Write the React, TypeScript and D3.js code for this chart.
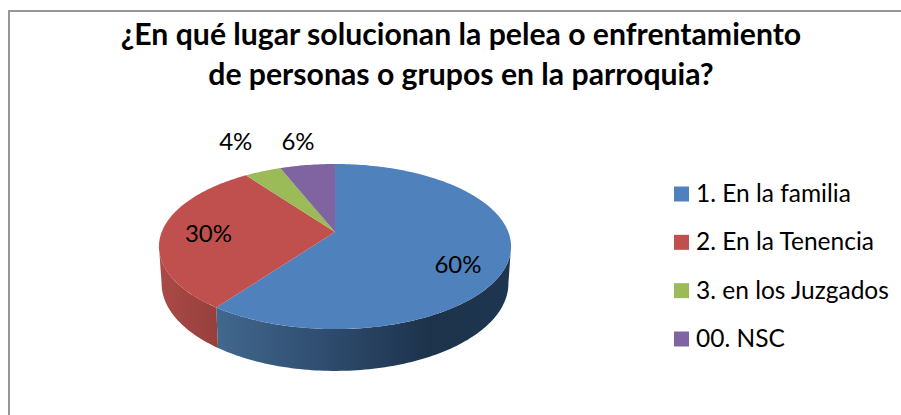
import React from "react";
import * as d3 from "d3";

const categories = ["1. En la familia", "2. En la Tenencia", "3. en los Juzgados", "00. NSC"];
const shares = [60, 30, 4, 6];
const labels = ["60%", "30%", "4%", "6%"];
const titleLines = ["¿En qué lugar solucionan la pelea o enfrentamiento", "de personas o grupos en la parroquia?"];
const colors = ["#4f81bd", "#c0504d", "#9bbb59", "#8064a2"];

const W = 901, H = 415;
const cx = 335, cy = 232;
const k = -0.176, ay = 80, bx = 173.3;
const depth = 36, lowX = 0.985, lowY = 1.06;
const FONT = "Lato, Carlito, sans-serif";

// disc projection: angle clockwise from north, radius fraction -> pixel
function project(theta: number, r = 1, lower = false): [number, number] {
  const u = r * Math.sin(theta), v = -r * Math.cos(theta);
  const d = 1 + k * v;
  const X = (bx * u) / d, Y = (ay * v) / d;
  return lower ? [cx + X * lowX, cy + Y * lowY + depth] : [cx + X, cy + Y];
}

function arcPts(a0: number, a1: number, lower = false) {
  const n = Math.max(2, Math.ceil(Math.abs(a1 - a0) / 0.02));
  return d3.range(n + 1).map((i) => project(a0 + ((a1 - a0) * i) / n, 1, lower));
}

const line = d3.line<[number, number]>().x((d) => d[0]).y((d) => d[1]);
const arcs = d3.pie<number>().sort(null)(shares);

const sideStart = (100 * Math.PI) / 180, sideEnd = (260 * Math.PI) / 180;

const labelPlacement = [
  { r: 0.7, dx: 3, dy: 14 },
  { r: 0.73, dx: 0, dy: 0 },
  { r: 1.28, dx: -10, dy: -17 },
  { r: 1.28, dx: -3, dy: -9 },
];

const legendY = d3.scalePoint<string>().domain(categories).range([194, 339]);

export default function App() {
  const sides = arcs
    .map((a, i) => ({ i, a0: Math.max(a.startAngle, sideStart), a1: Math.min(a.endAngle, sideEnd) }))
    .filter((s) => s.a1 > s.a0);
  return (
    <svg width={W} height={H} style={{ position: "absolute", left: 0, top: 0, background: "#fff" }}>
      <defs>
        <linearGradient id="side0" gradientUnits="userSpaceOnUse" x1={216} x2={511} y1={0} y2={0}>
          <stop offset="0" stopColor="#42688f" />
          <stop offset="0.4" stopColor="#2d4a6c" />
          <stop offset="0.72" stopColor="#1d334c" />
          <stop offset="1" stopColor="#1f3650" />
        </linearGradient>
        <linearGradient id="side1" gradientUnits="userSpaceOnUse" x1={159} x2={220} y1={0} y2={0}>
          <stop offset="0" stopColor="#ab4a47" />
          <stop offset="1" stopColor="#963f3c" />
        </linearGradient>
      </defs>
      <path d={`M9 415V11H901`} fill="none" stroke="#979797" strokeWidth={2} />
      {titleLines.map((t, i) => (
        <text key={t} x={461} y={44.5 + i * 40} textAnchor="middle" fontFamily={FONT} fontWeight={700} fontSize={30.2} fill="#000">{t}</text>
      ))}
      {sides.map((s) => (
        <path
          key={s.i}
          d={(line([...arcPts(s.a0, s.a1), ...arcPts(s.a1, s.a0, true)]) ?? "") + "Z"}
          fill={`url(#side${s.i})`}
        />
      ))}
      {arcs.map((a, i) => (
        <path
          key={i}
          d={(line([[cx, cy], ...arcPts(a.startAngle, a.endAngle)]) ?? "") + "Z"}
          fill={colors[i]}
        />
      ))}
      {arcs.map((a, i) => {
        const [x, y] = project((a.startAngle + a.endAngle) / 2, labelPlacement[i].r);
        return (
          <text key={i} x={x + labelPlacement[i].dx} y={y + labelPlacement[i].dy} textAnchor="middle" dominantBaseline="central" fontFamily={FONT} fontSize={24} fill="#000">{labels[i]}</text>
        );
      })}
      {categories.map((c, i) => {
        const y = legendY(c) ?? 0;
        return (
          <g key={c}>
            <rect x={674} y={y - 7.5} width={15} height={15} fill={colors[i]} />
            <text x={696} y={y - 1.5} dominantBaseline="central" fontFamily={FONT} fontSize={24.5} fill="#000">{c}</text>
          </g>
        );
      })}
    </svg>
  );
}
